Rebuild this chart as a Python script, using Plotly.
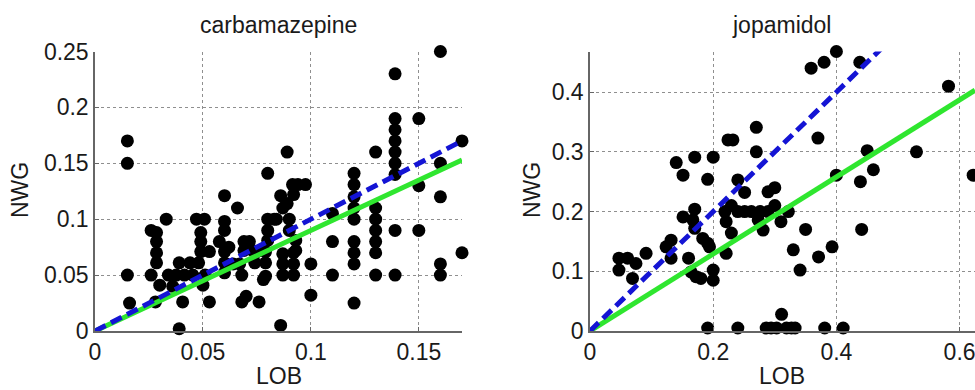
import plotly.graph_objects as go

# ---------------- data ----------------
carb_lob = [0.015, 0.015, 0.015, 0.016, 0.026, 0.026, 0.0285, 0.0285, 0.0285, 0.0285,
            0.028, 0.03, 0.033, 0.034, 0.0376, 0.0414, 0.0453, 0.039, 0.039, 0.044,
            0.048, 0.0406, 0.036, 0.047, 0.0507, 0.049, 0.049, 0.049, 0.053, 0.05,
            0.051, 0.053, 0.06, 0.06, 0.06, 0.06, 0.06, 0.06, 0.0576, 0.062,
            0.066, 0.064, 0.067, 0.069, 0.0715, 0.075, 0.079, 0.074, 0.079, 0.068,
            0.068, 0.070, 0.076, 0.078, 0.08, 0.08, 0.08, 0.08, 0.084, 0.079,
            0.086, 0.086, 0.087, 0.087, 0.089, 0.089, 0.09, 0.09, 0.0915, 0.094,
            0.0975, 0.092, 0.092, 0.092, 0.092, 0.087, 0.087, 0.093, 0.093, 0.10,
            0.10, 0.11, 0.11, 0.11, 0.12, 0.12, 0.12, 0.12, 0.12, 0.12,
            0.12, 0.12, 0.12, 0.13, 0.13, 0.13, 0.13, 0.13, 0.13, 0.13,
            0.139, 0.139, 0.139, 0.139, 0.139, 0.139, 0.139, 0.139, 0.139, 0.15,
            0.15, 0.15, 0.16, 0.16, 0.16, 0.16, 0.16, 0.17, 0.17, 0.073,
            0.069, 0.083]
carb_nwg = [0.17, 0.15, 0.05, 0.025, 0.09, 0.05, 0.088, 0.08, 0.07, 0.061,
            0.026, 0.041, 0.10, 0.05, 0.05, 0.05, 0.05, 0.061, 0.002, 0.061,
            0.061, 0.026, 0.04, 0.10, 0.10, 0.088, 0.08, 0.071, 0.071, 0.041,
            0.05, 0.026, 0.121, 0.098, 0.09, 0.071, 0.061, 0.052, 0.08, 0.075,
            0.11, 0.06, 0.06, 0.08, 0.08, 0.071, 0.071, 0.061, 0.061, 0.05,
            0.026, 0.031, 0.026, 0.046, 0.141, 0.10, 0.09, 0.081, 0.10, 0.049,
            0.121, 0.005, 0.11, 0.05, 0.16, 0.114, 0.10, 0.09, 0.131, 0.131,
            0.131, 0.122, 0.07, 0.06, 0.05, 0.069, 0.06, 0.081, 0.072, 0.06,
            0.032, 0.105, 0.08, 0.05, 0.141, 0.131, 0.12, 0.11, 0.10, 0.08,
            0.07, 0.06, 0.025, 0.16, 0.11, 0.10, 0.09, 0.08, 0.07, 0.05,
            0.23, 0.19, 0.18, 0.17, 0.16, 0.15, 0.14, 0.09, 0.05, 0.19,
            0.13, 0.09, 0.25, 0.15, 0.12, 0.06, 0.05, 0.17, 0.07, 0.072,
            0.072, 0.10]

jopa_lob = [0.047, 0.061, 0.047, 0.0746, 0.069, 0.091, 0.1235, 0.1316, 0.1316, 0.14,
            0.151, 0.151, 0.16, 0.164, 0.17, 0.17, 0.167, 0.17, 0.18, 0.183,
            0.191, 0.191, 0.2, 0.2, 0.2, 0.221, 0.221, 0.219, 0.2295, 0.24,
            0.251, 0.262, 0.224, 0.232, 0.2295, 0.24, 0.251, 0.27, 0.27, 0.276,
            0.289, 0.30, 0.289, 0.30, 0.273, 0.281, 0.31, 0.322, 0.33, 0.341,
            0.35, 0.371, 0.393, 0.37, 0.359, 0.38, 0.40, 0.438, 0.40, 0.439,
            0.441, 0.45, 0.46, 0.53, 0.582, 0.622,
            0.191, 0.24, 0.286, 0.294, 0.303, 0.319, 0.327, 0.333, 0.381, 0.411,
            0.311, 0.172, 0.194]
jopa_nwg = [0.122, 0.122, 0.102, 0.113, 0.088, 0.13, 0.141, 0.152, 0.122, 0.282,
            0.261, 0.191, 0.122, 0.099, 0.291, 0.204, 0.186, 0.172, 0.088, 0.155,
            0.147, 0.254, 0.291, 0.102, 0.085, 0.13, 0.183, 0.2, 0.21, 0.2,
            0.2, 0.2, 0.32, 0.32, 0.164, 0.253, 0.232, 0.341, 0.30, 0.2,
            0.2, 0.21, 0.233, 0.24, 0.186, 0.169, 0.183, 0.2, 0.136, 0.102,
            0.17, 0.124, 0.141, 0.323, 0.44, 0.45, 0.468, 0.45, 0.261, 0.25,
            0.17, 0.302, 0.27, 0.30, 0.41, 0.261,
            0.005, 0.005, 0.005, 0.005, 0.005, 0.005, 0.005, 0.005, 0.005, 0.005,
            0.028, 0.091, 0.141]

# fitted line slopes (through the origin)
carb_slope_dashed = 1.0
carb_slope_solid = 0.9
jopa_slope_dashed = 1.0
jopa_slope_solid = 0.645

carb_xticks = [0, 0.05, 0.1, 0.15]
carb_xticklabels = ["0", "0.05", "0.1", "0.15"]
carb_yticks = [0, 0.05, 0.1, 0.15, 0.2, 0.25]
carb_yticklabels = ["0", "0.05", "0.1", "0.15", "0.2", "0.25"]
jopa_xticks = [0, 0.2, 0.4, 0.6]
jopa_xticklabels = ["0", "0.2", "0.4", "0.6"]
jopa_yticks = [0, 0.1, 0.2, 0.3, 0.4]
jopa_yticklabels = ["0", "0.1", "0.2", "0.3", "0.4"]

titles = ["carbamazepine", "jopamidol"]
xlabel = "LOB"
ylabel = "NWG"

carb_xrange = [0, 0.17]
carb_yrange = [0, 0.25]
jopa_xrange = [0, 0.625]
jopa_yrange = [0, 0.468]

# ---------------- styling ----------------
W, H = 975, 390
FONT = "Liberation Sans, Arial, Helvetica, sans-serif"
GREEN = "#2fe62f"
BLUE = "#1414d4"
AXIS_COLOR = "#666666"
GRID_COLOR = "#8f8f8f"
TXT = "#1a1a1a"

left_dom = [95 / W, 462 / W]
right_dom = [590 / W, 1.0]
ydom = [(H - 331) / H, (H - 51.5) / H]

fig = go.Figure()

def add_panel(xs, ys, slope_dash, slope_solid, xr, xa, ya):
    fig.add_trace(go.Scatter(x=xs, y=ys, mode="markers", xaxis=xa, yaxis=ya,
                             marker=dict(color="black", size=13, line=dict(width=0)),
                             cliponaxis=False, showlegend=False, hoverinfo="skip"))
    xl = [xr[0], xr[1]]
    fig.add_trace(go.Scatter(x=xl, y=[v * slope_solid for v in xl], mode="lines",
                             xaxis=xa, yaxis=ya, line=dict(color=GREEN, width=5),
                             showlegend=False, hoverinfo="skip"))
    fig.add_trace(go.Scatter(x=xl, y=[v * slope_dash for v in xl], mode="lines",
                             xaxis=xa, yaxis=ya,
                             line=dict(color=BLUE, width=5, dash="12px,6px"),
                             showlegend=False, hoverinfo="skip"))

add_panel(carb_lob, carb_nwg, carb_slope_dashed, carb_slope_solid, carb_xrange, "x", "y")
add_panel(jopa_lob, jopa_nwg, jopa_slope_dashed, jopa_slope_solid, jopa_xrange, "x2", "y2")

def axis(dom, rng, tv, tt, anchor):
    return dict(domain=dom, range=rng, tickvals=tv, ticktext=tt, anchor=anchor,
                automargin=False, ticklabeloverflow="allow",
                showgrid=True, gridcolor=GRID_COLOR, griddash="dot", gridwidth=1,
                zeroline=False, showline=True, linecolor=AXIS_COLOR, linewidth=1.5,
                ticks="inside", ticklen=4, tickcolor=AXIS_COLOR, mirror=False,
                tickfont=dict(family=FONT, size=23, color=TXT), fixedrange=True)

fig.update_layout(
    template="none",
    width=W, height=H,
    margin=dict(l=0, r=0, t=0, b=0, pad=0),
    paper_bgcolor="white", plot_bgcolor="white",
    xaxis=axis(left_dom, carb_xrange, carb_xticks, carb_xticklabels, "y"),
    yaxis=axis(ydom, carb_yrange, carb_yticks, carb_yticklabels, "x"),
    xaxis2=axis(right_dom, jopa_xrange, jopa_xticks, jopa_xticklabels, "y2"),
    yaxis2=axis(ydom, jopa_yrange, jopa_yticks, jopa_yticklabels, "x2"),
    showlegend=False,
)

annots = []
for i, dom in enumerate([left_dom, right_dom]):
    cx = (dom[0] + min(dom[1], 973 / W)) / 2
    annots.append(dict(text=titles[i], x=cx, y=1 - 25 / H, xref="paper", yref="paper",
                       xanchor="center", yanchor="middle", showarrow=False,
                       font=dict(family=FONT, size=23, color=TXT)))
    annots.append(dict(text=xlabel, x=cx, y=1 - 376 / H, xref="paper", yref="paper",
                       xanchor="center", yanchor="middle", showarrow=False,
                       font=dict(family=FONT, size=23, color=TXT)))
ylab_x = [20 / W, 532 / W]
for xx in ylab_x:
    annots.append(dict(text=ylabel, x=xx, y=1 - 190 / H, xref="paper", yref="paper",
                       xanchor="center", yanchor="middle", showarrow=False, textangle=-90,
                       font=dict(family=FONT, size=23, color=TXT)))
fig.update_layout(annotations=annots)

fig.write_html("out.html")
